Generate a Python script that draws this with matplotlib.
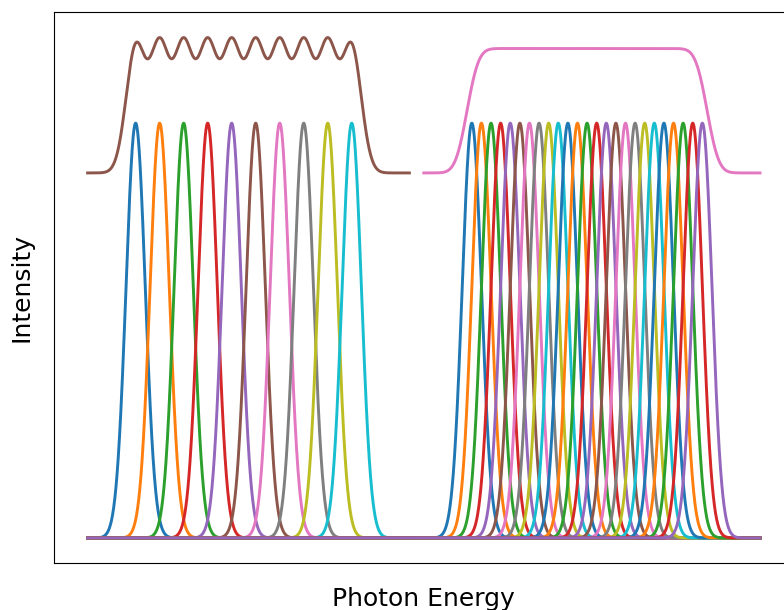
import numpy as np
import matplotlib
matplotlib.use("Agg")
import matplotlib.pyplot as plt

# Peak centres (photon energy, arbitrary units)
left_centers = [0, 1, 2, 3, 4, 5, 6, 7, 8, 9]
right_centers = [14.0, 14.4, 14.8, 15.2, 15.6, 16.0, 16.4, 16.8, 17.2, 17.6,
                 18.0, 18.4, 18.8, 19.2, 19.6, 20.0, 20.4, 20.8, 21.2, 21.6,
                 22.0, 22.4, 22.8, 23.2, 23.6]
sigma = 0.4
energy_range = [-2.0, 26.0]
left_sum_range = [-2.0, 11.4]
right_sum_range = [12.0, 26.0]
sum_offset = 0.88
sum_scale = 0.30

colors = plt.rcParams['axes.prop_cycle'].by_key()['color']

def gauss(x, c):
    return np.exp(-(x - c) ** 2 / (2 * sigma ** 2))

fig = plt.figure(figsize=(7.84, 6.10), dpi=100)
ax = fig.add_axes([54 / 784, 47 / 610, (793.6 - 54) / 784, (563 - 12) / 610])

x = np.linspace(energy_range[0], energy_range[1], 3000)
lw = 2.1

for i, c in enumerate(left_centers):
    ax.plot(x, gauss(x, c), color=colors[i % 10], lw=lw)

xl = np.linspace(left_sum_range[0], left_sum_range[1], 1500)
sl = sum(gauss(xl, c) for c in left_centers)
ax.plot(xl, sum_offset + sum_scale * sl, color=colors[5], lw=lw)

for i, c in enumerate(right_centers):
    ax.plot(x, gauss(x, c), color=colors[i % 10], lw=lw)

xr = np.linspace(right_sum_range[0], right_sum_range[1], 1500)
sr = sum(gauss(xr, c) for c in right_centers)
ax.plot(xr, sum_offset + sum_scale * sr / sr.max(), color=colors[6], lw=lw)

ax.set_xlim(-3.4, 27.4)
ax.set_ylim(-0.0604, 1.268)
ax.set_xticks([])
ax.set_yticks([])
ax.set_xlabel("Photon Energy", fontsize=18, labelpad=17)
ax.set_ylabel("Intensity", fontsize=18, labelpad=15)

fig.savefig("out.png", dpi=100)
